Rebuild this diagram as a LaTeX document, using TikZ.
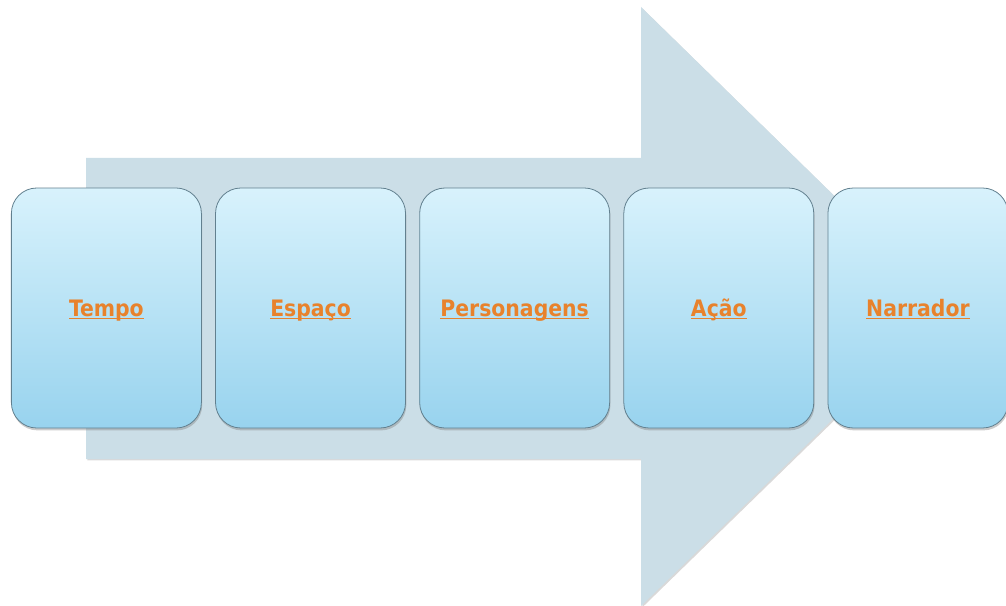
\documentclass[tikz,border=0pt]{standalone}
\usepackage{fontspec}
\setmainfont{DejaVu Sans}
\newfontfamily\labelfont{DejaVu Sans Condensed}
\usepackage{tikz}
\usetikzlibrary{matrix}
\usetikzlibrary{shadows}
\usepackage{xcolor}
\definecolor{arrowblue}{HTML}{CBDEE7}
\definecolor{boxtop}{HTML}{D8F2FC}
\definecolor{boxbottom}{HTML}{98D3EE}
\definecolor{boxline}{HTML}{62808F}
\definecolor{labelorange}{HTML}{E8822C}
\newcommand{\ulabel}[1]{\underline{\smash{#1}}}

\begin{document}
\begin{tikzpicture}[x=0.75pt,y=-0.75pt,
		stepbox/.style={draw=boxline,line width=0.6pt,rounded corners=19pt,
			top color=boxtop,bottom color=boxbottom,anchor=center,
			minimum width=142.5pt,minimum height=180pt,inner sep=0pt,outer sep=0pt,
			text height=17pt,text depth=4pt,
			drop shadow={opacity=0.4,shadow xshift=0.6pt,shadow yshift=-1.8pt}},
		steplabel/.style={text=labelorange,font=\labelfont\bfseries\fontsize{17}{20}\selectfont}]
			\useasboundingbox (0,0) rectangle (1006,606);
			% the big arrow behind the boxes
			\fill[arrowblue,drop shadow={opacity=0.3,shadow xshift=1pt,shadow yshift=-1pt}]
			(86,158) -- (641,158) -- (641,7) -- (948,307) -- (641,606) -- (641,459) -- (86,459) -- cycle;
			\matrix (m) [matrix of nodes,column sep=10pt,inner sep=0pt,outer sep=0pt,anchor=west,
				nodes={stepbox,steplabel}] at (11,308)
			{
				\ulabel{Tempo} & \ulabel{Espaço} & \ulabel{Personagens} & \ulabel{Ação} &
				|[minimum width=135pt]| \ulabel{Narrador} \\};
		\end{tikzpicture}
\end{document}
